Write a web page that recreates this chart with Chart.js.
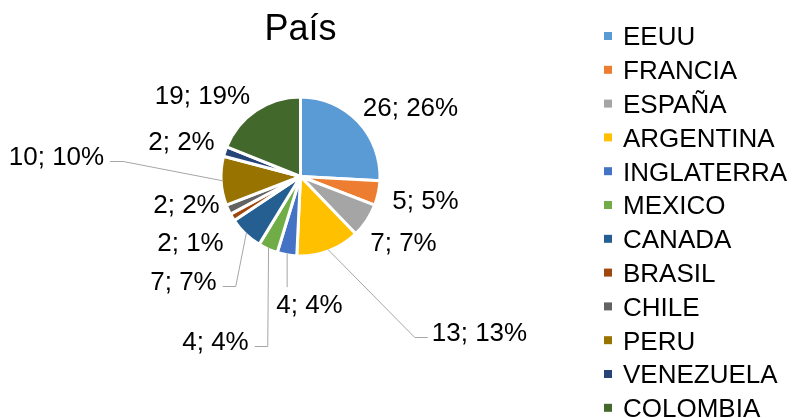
<!DOCTYPE html>
<html>
<head>
<meta charset="utf-8">
<title>País</title>
<script src="https://cdn.jsdelivr.net/npm/chart.js@4.4.0/dist/chart.umd.min.js"></script>
<style>
    html, body { margin: 0; padding: 0; background: #fff; overflow: hidden; }
    #paisChart { display: block; }
</style>
</head>
<body>
<canvas id="paisChart" width="793" height="418"></canvas>
<script>
var chartTitle = "País";
var paises = ["EEUU", "FRANCIA", "ESPAÑA", "ARGENTINA", "INGLATERRA", "MEXICO",
    "CANADA", "BRASIL", "CHILE", "PERU", "VENEZUELA", "COLOMBIA"];
// BRASIL shows "2; 1%" so it is a bit under 2
var cantidad = [26, 5, 7, 13, 4, 4, 7, 1.5, 2, 10, 2, 19];
var colores = ["#5B9BD5", "#ED7D31", "#A5A5A5", "#FFC000", "#4472C4", "#70AD47",
    "#255E91", "#9E480E", "#636363", "#997300", "#264478", "#43682B"];

// where each data label sits, measured from the pie centre (like excel "best fit")
var labelOffsets = [[110, -70], [125, 23], [103, 65], [179, 155], [9, 127], [-85, 164],
    [-117, 104], [-110, 65], [-114, 27], [-244, -21], [-119, -36], [-98, -82]];

var FONT = '"Liberation Sans", Arial, sans-serif';

/*
 ========= titles, data labels with leader lines and legend =============
 */
var excelLook = {
    id: 'excelLook',
    afterDatasetsDraw: function (chart) {
        var ctx = chart.ctx;
        var meta = chart.getDatasetMeta(0);
        var data = chart.data.datasets[0].data;
        var total = 0;
        for (var i = 0; i < data.length; i++) total += data[i];

        var cx = meta.data[0].x;
        var cy = meta.data[0].y;
        var r = meta.data[0].outerRadius - 1.5;

        ctx.save();

        // title
        ctx.fillStyle = '#000';
        ctx.font = '36px ' + FONT;
        ctx.textAlign = 'center';
        ctx.textBaseline = 'alphabetic';
        ctx.fillText(chartTitle, cx, 40);

        // data labels
        var fs = 26;
        var cap = fs * 0.716;
        ctx.font = fs + 'px ' + FONT;
        for (i = 0; i < data.length; i++) {
            var arc = meta.data[i];
            var mid = (arc.startAngle + arc.endAngle) / 2;
            var sx = cx + Math.cos(mid) * r;
            var sy = cy + Math.sin(mid) * r;

            var txt = Math.round(data[i]) + '; ' + Math.round(data[i] / total * 100) + '%';
            var lx = cx + labelOffsets[i][0];
            var ly = cy + labelOffsets[i][1];
            var w = ctx.measureText(txt).width;
            var left = lx - w / 2, right = lx + w / 2;
            var top = ly - cap / 2, bottom = ly + cap / 2;

            // distance from slice edge to the label box
            var nx = Math.max(left, Math.min(sx, right));
            var ny = Math.max(top, Math.min(sy, bottom));
            var dist = Math.sqrt((sx - nx) * (sx - nx) + (sy - ny) * (sy - ny));

            if (dist > 28) {
                ctx.strokeStyle = '#A6A6A6';
                ctx.lineWidth = 1;
                ctx.beginPath();
                ctx.moveTo(sx, sy);
                if (sx >= left && sx <= right) {
                    ctx.lineTo(sx, sy < top ? top - 7 : bottom + 7);
                } else {
                    var ey = ly + 6;
                    var ex, bx;
                    if (sx < left) { ex = left - 4; bx = ex - 13; }
                    else { ex = right + 6; bx = ex + 13; }
                    ctx.lineTo(bx, ey);
                    ctx.lineTo(ex, ey);
                }
                ctx.stroke();
            }

            ctx.fillStyle = '#000';
            ctx.textAlign = 'center';
            ctx.fillText(txt, lx, ly + cap / 2);
        }

        // legend
        ctx.font = '26px ' + FONT;
        ctx.textAlign = 'left';
        for (i = 0; i < chart.data.labels.length; i++) {
            var y = 36 + i * 33.8;
            ctx.fillStyle = colores[i];
            ctx.fillRect(604, y - 4, 8, 8);
            ctx.fillStyle = '#000';
            ctx.fillText(chart.data.labels[i], 623, y + 9.3);
        }

        ctx.restore();
    }
};

var ctx = document.getElementById('paisChart');

var paisChart = new Chart(ctx, {
    type: 'pie',
    data: {
        labels: paises,
        datasets: [{
            data: cantidad,
            backgroundColor: colores,
            borderColor: '#FFFFFF',
            borderWidth: 3,
            radius: 79.5
        }]
    },
    options: {
        responsive: false,
        animation: false,
        layout: { padding: { left: 0, right: 192, top: 0, bottom: 65 } },
        plugins: {
            legend: { display: false },
            title: { display: false },
            tooltip: { enabled: false }
        }
    },
    plugins: [excelLook]
});
</script>
</body>
</html>
